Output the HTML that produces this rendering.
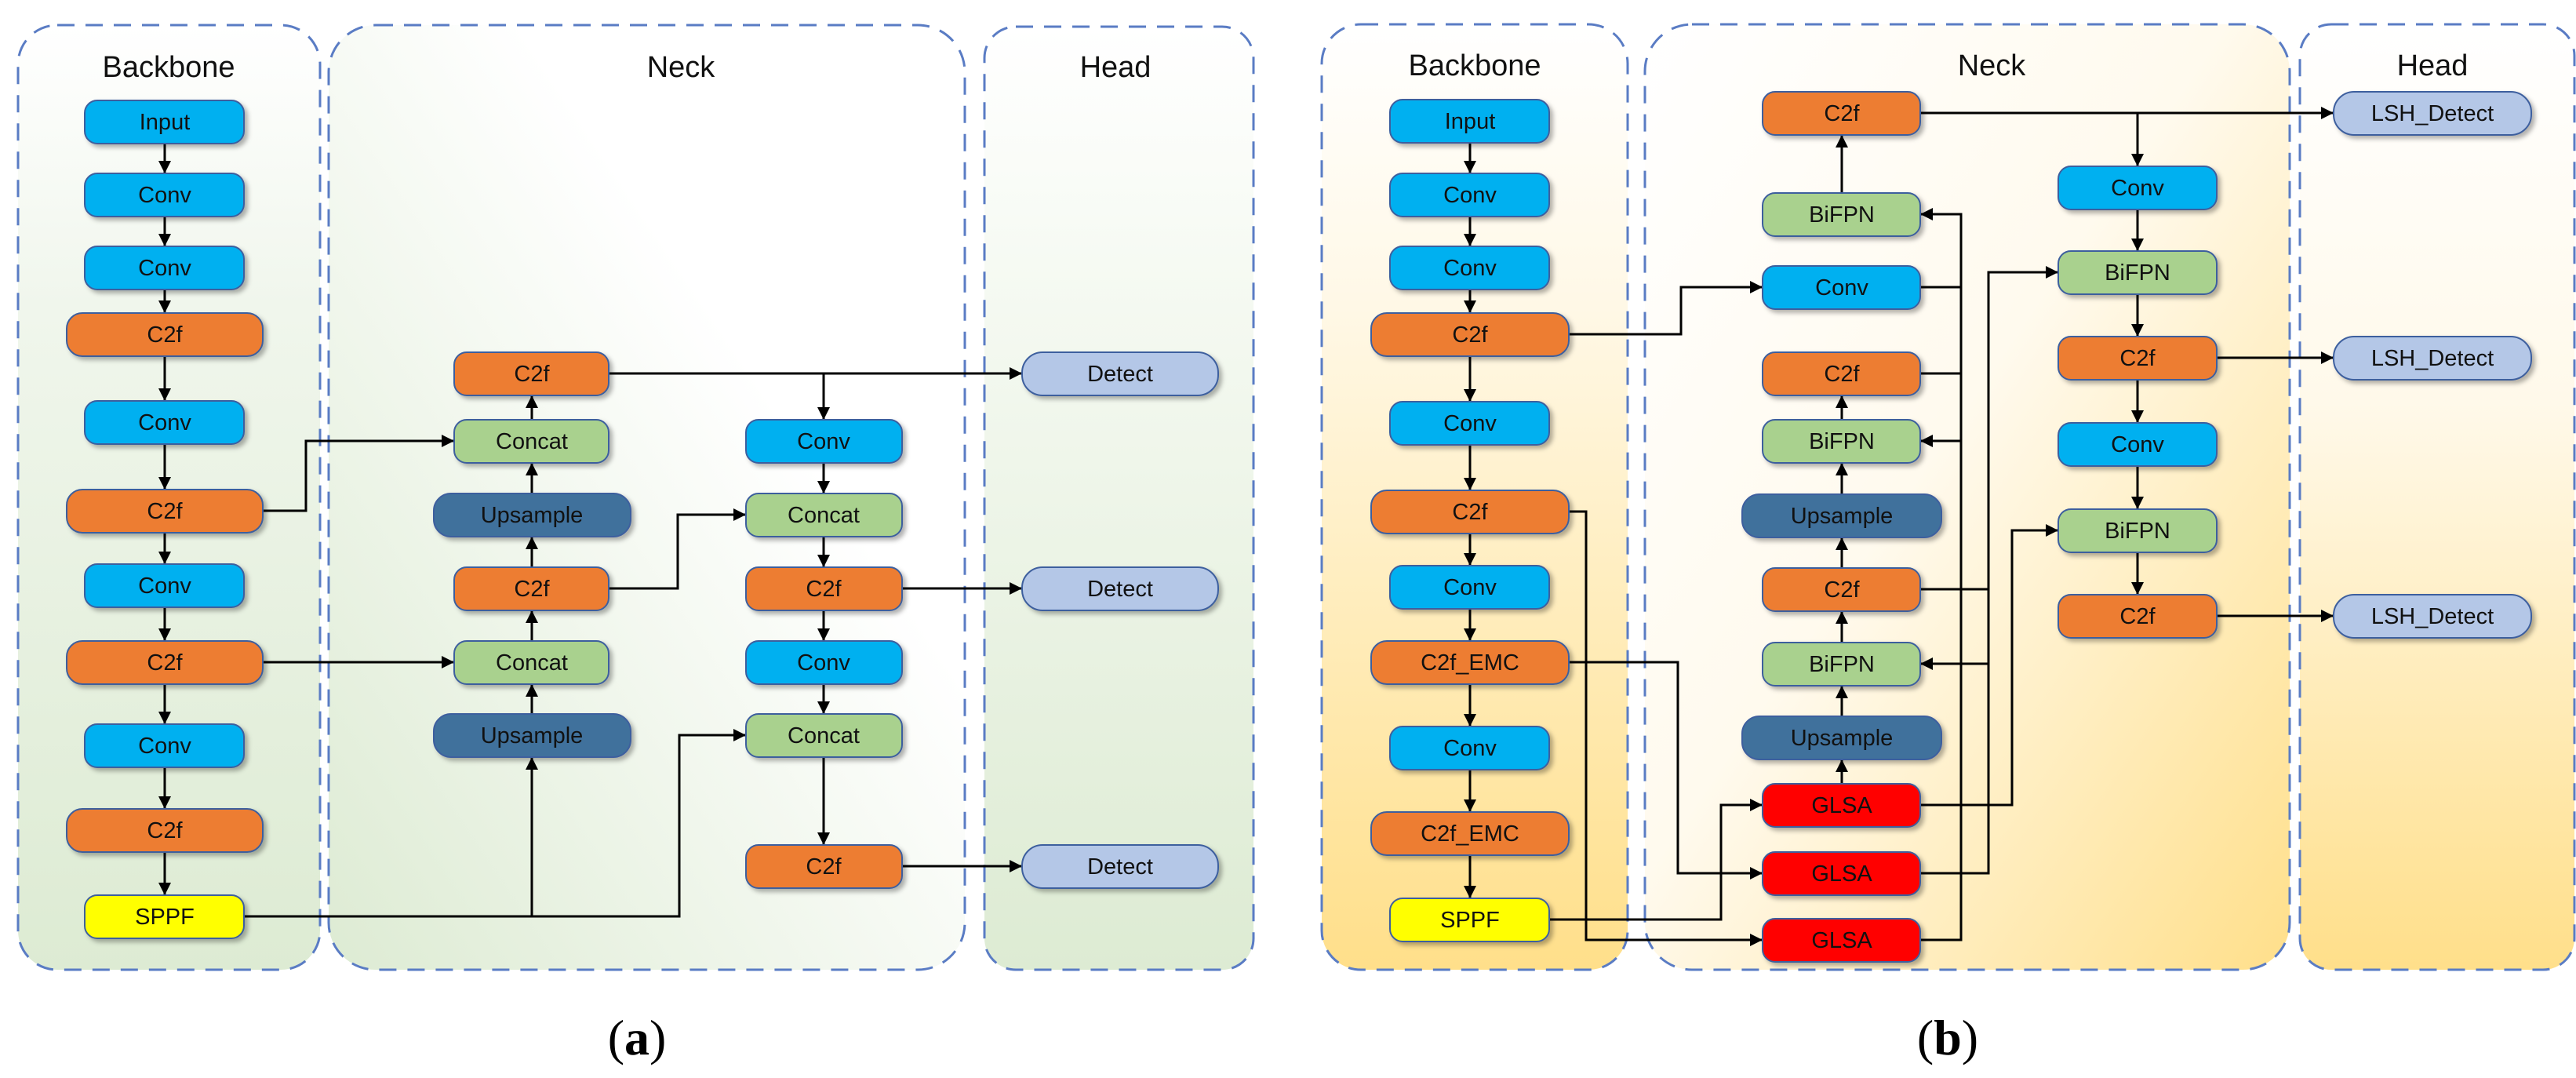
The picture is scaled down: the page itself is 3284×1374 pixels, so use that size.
<!DOCTYPE html>
<html><head><meta charset="utf-8"><style>
html,body{margin:0;padding:0;background:#fff;}
svg{display:block;}
.t{font-family:"Liberation Sans",sans-serif;font-size:29px;fill:#111;text-anchor:middle;}
.h{font-family:"Liberation Sans",sans-serif;font-size:38px;fill:#111;text-anchor:middle;}
.c{stroke:#000;stroke-width:3;fill:none;}
.a{stroke:#000;stroke-width:3;fill:none;marker-end:url(#ar);}
.n rect{stroke:#3E5F9E;stroke-width:2;}
.bx{stroke:#5A7CC4;stroke-width:3;stroke-dasharray:22 14;}
</style></head><body>
<svg width="3284" height="1374" viewBox="0 0 3284 1374" xmlns="http://www.w3.org/2000/svg">
<defs>
<marker id="ar" viewBox="0 0 10 10" refX="10" refY="5" markerWidth="16" markerHeight="16" markerUnits="userSpaceOnUse" orient="auto"><path d="M0,0 L10,5 L0,10 z" fill="#000"/></marker>
<linearGradient id="gA1" x1="0" y1="0" x2="0" y2="1"><stop offset="0" stop-color="#fff"/><stop offset="0.3" stop-color="#F0F6EC"/><stop offset="1" stop-color="#DDEBD3"/></linearGradient>
<linearGradient id="gA2" x1="1" y1="0" x2="0" y2="1"><stop offset="0" stop-color="#fff"/><stop offset="0.35" stop-color="#fff"/><stop offset="1" stop-color="#DDEBD3"/></linearGradient>
<linearGradient id="gA3" x1="0" y1="0" x2="0" y2="1"><stop offset="0" stop-color="#fff"/><stop offset="0.25" stop-color="#F6FAF3"/><stop offset="1" stop-color="#DDEBD3"/></linearGradient>
<linearGradient id="gB1" x1="0" y1="0" x2="0" y2="1"><stop offset="0" stop-color="#fff"/><stop offset="0.3" stop-color="#FFF8E6"/><stop offset="1" stop-color="#FFDF8A"/></linearGradient>
<linearGradient id="gB2" x1="0" y1="0" x2="1" y2="1"><stop offset="0" stop-color="#fff"/><stop offset="0.45" stop-color="#FFFAEE"/><stop offset="1" stop-color="#FFDF8A"/></linearGradient>
<linearGradient id="gB3" x1="0" y1="0" x2="0" y2="1"><stop offset="0" stop-color="#fff"/><stop offset="0.4" stop-color="#FFF9EA"/><stop offset="1" stop-color="#FFDF8A"/></linearGradient>
<filter id="sh" x="-10%" y="-20%" width="130%" height="150%"><feDropShadow dx="4" dy="4" stdDeviation="3" flood-color="#000" flood-opacity="0.3"/></filter>
</defs>

<!-- (a) boxes -->
<rect class="bx" x="23" y="32" width="385" height="1204" rx="50" fill="url(#gA1)"/>
<rect class="bx" x="419" y="32" width="811" height="1204" rx="60" fill="url(#gA2)"/>
<rect class="bx" x="1255" y="34" width="343" height="1202" rx="40" fill="url(#gA3)"/>
<text class="h" x="215" y="98">Backbone</text>
<text class="h" x="868" y="98">Neck</text>
<text class="h" x="1422" y="98">Head</text>

<!-- (b) boxes -->
<rect class="bx" x="1685" y="31" width="390" height="1205" rx="50" fill="url(#gB1)"/>
<rect class="bx" x="2097" y="31" width="822" height="1205" rx="60" fill="url(#gB2)"/>
<rect class="bx" x="2932" y="31" width="350" height="1205" rx="40" fill="url(#gB3)"/>
<text class="h" x="1880" y="96">Backbone</text>
<text class="h" x="2539" y="96">Neck</text>
<text class="h" x="3101" y="96">Head</text>

<!-- (a) connectors -->
<path class="a" d="M210 183V221"/><path class="a" d="M210 276V314"/><path class="a" d="M210 369V399"/>
<path class="a" d="M210 454V511"/><path class="a" d="M210 566V624"/><path class="a" d="M210 679V719"/>
<path class="a" d="M210 774V817"/><path class="a" d="M210 872V923"/><path class="a" d="M210 978V1031"/>
<path class="a" d="M210 1086V1141"/>
<path class="a" d="M335 651H390V562H579"/>
<path class="a" d="M335 844H579"/>
<path class="a" d="M311 1168H866V937H951"/>
<path class="a" d="M678 1168V965"/>
<path class="a" d="M678 910V872"/><path class="a" d="M678 817V778"/><path class="a" d="M678 723V684"/>
<path class="a" d="M678 629V590"/><path class="a" d="M678 535V504"/>
<path class="a" d="M776 750H864V656H951"/>
<path class="a" d="M776 476H1303"/><path class="a" d="M1050 476V535"/>
<path class="a" d="M1050 590V629"/><path class="a" d="M1050 684V723"/><path class="a" d="M1050 778V817"/>
<path class="a" d="M1050 872V910"/><path class="a" d="M1050 965V1077"/>
<path class="a" d="M1150 750H1303"/><path class="a" d="M1150 1104H1303"/>

<!-- (b) connectors -->
<path class="a" d="M1874 182V221"/><path class="a" d="M1874 276V314"/><path class="a" d="M1874 369V399"/>
<path class="a" d="M1874 454V512"/><path class="a" d="M1874 567V625"/><path class="a" d="M1874 680V721"/>
<path class="a" d="M1874 776V817"/><path class="a" d="M1874 872V926"/><path class="a" d="M1874 981V1035"/>
<path class="a" d="M1874 1090V1145"/>
<path class="a" d="M2000 426H2143V366H2247"/>
<path class="a" d="M2000 652H2022V1198H2247"/>
<path class="a" d="M2000 844H2139V1113H2247"/>
<path class="a" d="M1975 1172H2194V1026H2247"/>
<path class="a" d="M2348 999V968"/><path class="a" d="M2348 913V874"/><path class="a" d="M2348 819V779"/>
<path class="a" d="M2348 724V685"/><path class="a" d="M2348 630V590"/><path class="a" d="M2348 535V504"/>
<path class="a" d="M2348 246V172"/>
<path class="a" d="M2448 1198H2500V273H2448"/>
<path class="c" d="M2448 366H2500M2448 476H2500"/>
<path class="a" d="M2500 562H2448"/>
<path class="a" d="M2448 1113H2535V347H2624"/>
<path class="c" d="M2448 751H2535"/>
<path class="a" d="M2535 846H2448"/>
<path class="a" d="M2448 1026H2565V676H2624"/>
<path class="a" d="M2448 144H2975"/><path class="a" d="M2725 144V212"/>
<path class="a" d="M2725 267V320"/><path class="a" d="M2725 375V429"/><path class="a" d="M2725 484V539"/>
<path class="a" d="M2725 594V649"/><path class="a" d="M2725 704V758"/>
<path class="a" d="M2826 456H2975"/><path class="a" d="M2826 785H2975"/>

<!-- (a) nodes -->
<g class="n" filter="url(#sh)">
<rect x="108" y="128" width="203" height="55" rx="16" fill="#00B0F0"/>
<rect x="108" y="221" width="203" height="55" rx="16" fill="#00B0F0"/>
<rect x="108" y="314" width="203" height="55" rx="16" fill="#00B0F0"/>
<rect x="85" y="399" width="250" height="55" rx="20" fill="#ED7D31"/>
<rect x="108" y="511" width="203" height="55" rx="16" fill="#00B0F0"/>
<rect x="85" y="624" width="250" height="55" rx="20" fill="#ED7D31"/>
<rect x="108" y="719" width="203" height="55" rx="16" fill="#00B0F0"/>
<rect x="85" y="817" width="250" height="55" rx="20" fill="#ED7D31"/>
<rect x="108" y="923" width="203" height="55" rx="16" fill="#00B0F0"/>
<rect x="85" y="1031" width="250" height="55" rx="20" fill="#ED7D31"/>
<rect x="108" y="1141" width="203" height="55" rx="16" fill="#FFFF00"/>
<rect x="579" y="449" width="197" height="55" rx="16" fill="#ED7D31"/>
<rect x="579" y="535" width="197" height="55" rx="16" fill="#A9D18E"/>
<rect x="553" y="629" width="251" height="55" rx="22" fill="#41719C"/>
<rect x="579" y="723" width="197" height="55" rx="16" fill="#ED7D31"/>
<rect x="579" y="817" width="197" height="55" rx="16" fill="#A9D18E"/>
<rect x="553" y="910" width="251" height="55" rx="22" fill="#41719C"/>
<rect x="951" y="535" width="199" height="55" rx="16" fill="#00B0F0"/>
<rect x="951" y="629" width="199" height="55" rx="16" fill="#A9D18E"/>
<rect x="951" y="723" width="199" height="55" rx="16" fill="#ED7D31"/>
<rect x="951" y="817" width="199" height="55" rx="16" fill="#00B0F0"/>
<rect x="951" y="910" width="199" height="55" rx="16" fill="#A9D18E"/>
<rect x="951" y="1077" width="199" height="55" rx="16" fill="#ED7D31"/>
<rect x="1303" y="449" width="250" height="55" rx="26" fill="#B4C7E7"/>
<rect x="1303" y="723" width="250" height="55" rx="26" fill="#B4C7E7"/>
<rect x="1303" y="1077" width="250" height="55" rx="26" fill="#B4C7E7"/>
</g>
<g>
<text class="t" x="210" y="165">Input</text>
<text class="t" x="210" y="258">Conv</text>
<text class="t" x="210" y="351">Conv</text>
<text class="t" x="210" y="436">C2f</text>
<text class="t" x="210" y="548">Conv</text>
<text class="t" x="210" y="661">C2f</text>
<text class="t" x="210" y="756">Conv</text>
<text class="t" x="210" y="854">C2f</text>
<text class="t" x="210" y="960">Conv</text>
<text class="t" x="210" y="1068">C2f</text>
<text class="t" x="210" y="1178">SPPF</text>
<text class="t" x="678" y="486">C2f</text>
<text class="t" x="678" y="572">Concat</text>
<text class="t" x="678" y="666">Upsample</text>
<text class="t" x="678" y="760">C2f</text>
<text class="t" x="678" y="854">Concat</text>
<text class="t" x="678" y="947">Upsample</text>
<text class="t" x="1050" y="572">Conv</text>
<text class="t" x="1050" y="666">Concat</text>
<text class="t" x="1050" y="760">C2f</text>
<text class="t" x="1050" y="854">Conv</text>
<text class="t" x="1050" y="947">Concat</text>
<text class="t" x="1050" y="1114">C2f</text>
<text class="t" x="1428" y="486">Detect</text>
<text class="t" x="1428" y="760">Detect</text>
<text class="t" x="1428" y="1114">Detect</text>
</g>

<!-- (b) nodes -->
<g class="n" filter="url(#sh)">
<rect x="1772" y="127" width="203" height="55" rx="16" fill="#00B0F0"/>
<rect x="1772" y="221" width="203" height="55" rx="16" fill="#00B0F0"/>
<rect x="1772" y="314" width="203" height="55" rx="16" fill="#00B0F0"/>
<rect x="1748" y="399" width="252" height="55" rx="20" fill="#ED7D31"/>
<rect x="1772" y="512" width="203" height="55" rx="16" fill="#00B0F0"/>
<rect x="1748" y="625" width="252" height="55" rx="20" fill="#ED7D31"/>
<rect x="1772" y="721" width="203" height="55" rx="16" fill="#00B0F0"/>
<rect x="1748" y="817" width="252" height="55" rx="20" fill="#ED7D31"/>
<rect x="1772" y="926" width="203" height="55" rx="16" fill="#00B0F0"/>
<rect x="1748" y="1035" width="252" height="55" rx="20" fill="#ED7D31"/>
<rect x="1772" y="1145" width="203" height="55" rx="16" fill="#FFFF00"/>
<rect x="2247" y="117" width="201" height="55" rx="16" fill="#ED7D31"/>
<rect x="2247" y="246" width="201" height="55" rx="16" fill="#A9D18E"/>
<rect x="2247" y="339" width="201" height="55" rx="16" fill="#00B0F0"/>
<rect x="2247" y="449" width="201" height="55" rx="16" fill="#ED7D31"/>
<rect x="2247" y="535" width="201" height="55" rx="16" fill="#A9D18E"/>
<rect x="2221" y="630" width="254" height="55" rx="22" fill="#41719C"/>
<rect x="2247" y="724" width="201" height="55" rx="16" fill="#ED7D31"/>
<rect x="2247" y="819" width="201" height="55" rx="16" fill="#A9D18E"/>
<rect x="2221" y="913" width="254" height="55" rx="22" fill="#41719C"/>
<rect x="2247" y="999" width="201" height="55" rx="16" fill="#FF0000"/>
<rect x="2247" y="1086" width="201" height="55" rx="16" fill="#FF0000"/>
<rect x="2247" y="1171" width="201" height="55" rx="16" fill="#FF0000"/>
<rect x="2624" y="212" width="202" height="55" rx="16" fill="#00B0F0"/>
<rect x="2624" y="320" width="202" height="55" rx="16" fill="#A9D18E"/>
<rect x="2624" y="429" width="202" height="55" rx="16" fill="#ED7D31"/>
<rect x="2624" y="539" width="202" height="55" rx="16" fill="#00B0F0"/>
<rect x="2624" y="649" width="202" height="55" rx="16" fill="#A9D18E"/>
<rect x="2624" y="758" width="202" height="55" rx="16" fill="#ED7D31"/>
<rect x="2975" y="117" width="252" height="55" rx="26" fill="#B4C7E7"/>
<rect x="2975" y="429" width="252" height="55" rx="26" fill="#B4C7E7"/>
<rect x="2975" y="758" width="252" height="55" rx="26" fill="#B4C7E7"/>
</g>
<g>
<text class="t" x="1874" y="164">Input</text>
<text class="t" x="1874" y="258">Conv</text>
<text class="t" x="1874" y="351">Conv</text>
<text class="t" x="1874" y="436">C2f</text>
<text class="t" x="1874" y="549">Conv</text>
<text class="t" x="1874" y="662">C2f</text>
<text class="t" x="1874" y="758">Conv</text>
<text class="t" x="1874" y="854">C2f_EMC</text>
<text class="t" x="1874" y="963">Conv</text>
<text class="t" x="1874" y="1072">C2f_EMC</text>
<text class="t" x="1874" y="1182">SPPF</text>
<text class="t" x="2348" y="154">C2f</text>
<text class="t" x="2348" y="283">BiFPN</text>
<text class="t" x="2348" y="376">Conv</text>
<text class="t" x="2348" y="486">C2f</text>
<text class="t" x="2348" y="572">BiFPN</text>
<text class="t" x="2348" y="667">Upsample</text>
<text class="t" x="2348" y="761">C2f</text>
<text class="t" x="2348" y="856">BiFPN</text>
<text class="t" x="2348" y="950">Upsample</text>
<text class="t" x="2348" y="1036">GLSA</text>
<text class="t" x="2348" y="1123">GLSA</text>
<text class="t" x="2348" y="1208">GLSA</text>
<text class="t" x="2725" y="249">Conv</text>
<text class="t" x="2725" y="357">BiFPN</text>
<text class="t" x="2725" y="466">C2f</text>
<text class="t" x="2725" y="576">Conv</text>
<text class="t" x="2725" y="686">BiFPN</text>
<text class="t" x="2725" y="795">C2f</text>
<text class="t" x="3101" y="154">LSH_Detect</text>
<text class="t" x="3101" y="466">LSH_Detect</text>
<text class="t" x="3101" y="795">LSH_Detect</text>
</g>

<text x="812" y="1344" font-family="'Liberation Serif',serif" font-size="64" text-anchor="middle" fill="#000">(<tspan font-weight="bold">a</tspan>)</text>
<text x="2483" y="1344" font-family="'Liberation Serif',serif" font-size="64" text-anchor="middle" fill="#000">(<tspan font-weight="bold">b</tspan>)</text>
</svg>
</body></html>
